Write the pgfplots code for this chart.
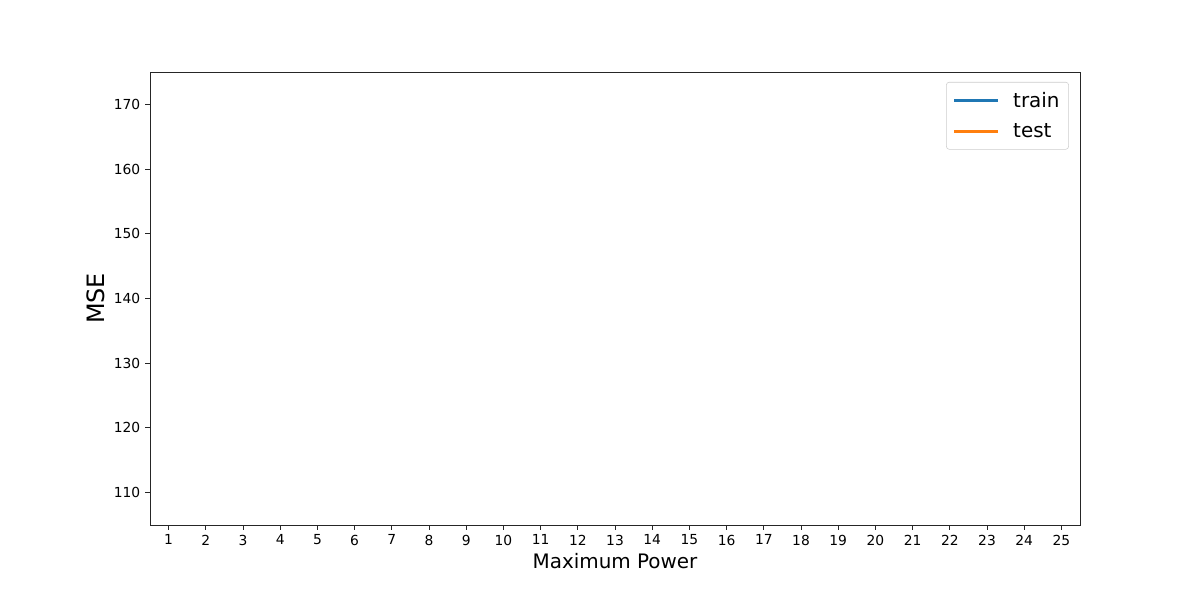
\documentclass[border=0pt]{standalone}
\usepackage{fontspec}
\setmainfont{DejaVu Sans}
\usepackage{pgfplots}
\pgfplotsset{compat=1.18}
\definecolor{tabblue}{HTML}{1F77B4}
\definecolor{taborange}{HTML}{FF7F0E}
\begin{document}
\begin{tikzpicture}
\path (-1.5in,-0.75in) rectangle (10.5in,5.25in);
\begin{axis}[
  at={(0,0)}, anchor=south west, scale only axis,
  width=9.3in, height=4.53in,
  xmin=0.5, xmax=25.5, ymin=105, ymax=175,
  xtick={1,...,25}, ytick={110,120,...,170},
  xtick pos=bottom, ytick pos=left,
  tick align=outside, major tick length=3.5pt,
  tick style={black!85, line width=0.7pt},
  axis line style={black!85, line width=0.7pt},
  /pgf/number format/assume math mode=true,
  tick label style={font=\fontsize{10}{12}\selectfont},
  xlabel={Maximum Power}, ylabel={MSE},
  xlabel style={font=\fontsize{14.4}{17}\selectfont, at={(axis description cs:0.5,-0.0795)}, anchor=center},
  ylabel style={font=\fontsize{17.28}{20}\selectfont, at={(axis description cs:-0.058,0.5)}, anchor=center, rotate=0},
  legend cell align=left,
  legend style={at={(0.988,0.978)}, anchor=north east, draw=black!20, rounded corners=2pt,
    font=\fontsize{14.4}{17}\selectfont, row sep=6.4pt, inner xsep=4.5pt, inner ysep=5pt},
  legend image code/.code={\draw[#1, line width=2.2pt] (0,0) -- (0.44in,0); \path (0.56in,0);},
]
\addlegendimage{tabblue}
\addlegendentry{train}
\addlegendimage{taborange}
\addlegendentry{test}
\end{axis}
\end{tikzpicture}
\end{document}
